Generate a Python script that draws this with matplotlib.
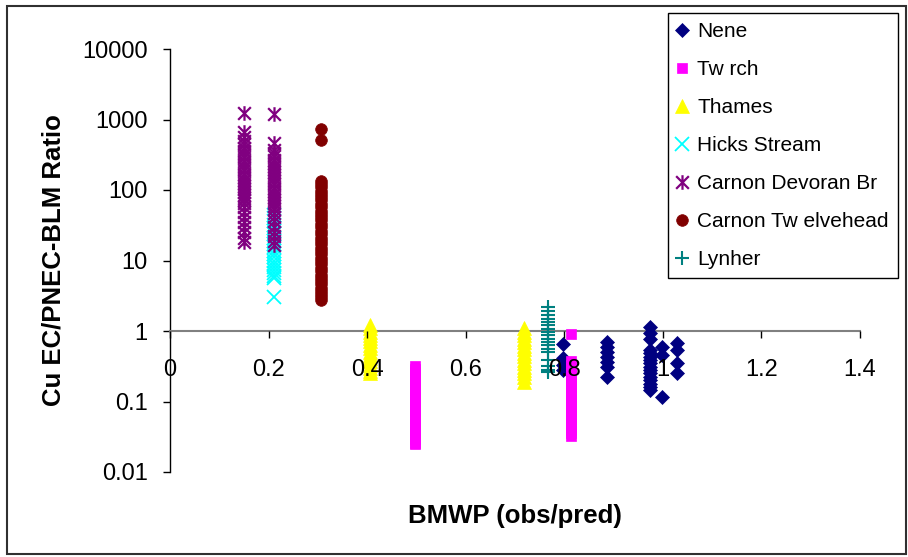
import matplotlib
matplotlib.use("Agg")
import matplotlib.pyplot as plt
from matplotlib.path import Path
from matplotlib.patches import Rectangle

plt.rcParams['font.family'] = ['Liberation Sans', 'DejaVu Sans']

# ---- data: column positions (BMWP obs/pred) and ratios per column ----
nene_cols = [0.797, 0.887, 0.974, 0.998, 1.028]
nene_vals = [
    [0.65, 0.41, 0.33, 0.28],
    [0.70, 0.59, 0.50, 0.43, 0.36, 0.31, 0.22],
    [1.14, 0.94, 0.77, 0.54, 0.48, 0.43, 0.39, 0.35, 0.31, 0.28, 0.25,
     0.22, 0.20, 0.18, 0.16, 0.145],
    [0.59, 0.46, 0.116],
    [0.68, 0.54, 0.35, 0.25],
]

twrch_cols = [0.497, 0.814]
twrch_vals = [
    [0.32, 0.29, 0.26, 0.23, 0.21, 0.19, 0.17, 0.15, 0.135, 0.12, 0.108,
     0.097, 0.087, 0.078, 0.07, 0.063, 0.056, 0.05, 0.045, 0.04, 0.036,
     0.032, 0.029, 0.026, 0.025],
    [0.91, 0.37, 0.33, 0.30, 0.27, 0.24, 0.215, 0.195, 0.175, 0.155, 0.138,
     0.123, 0.11, 0.098, 0.087, 0.078, 0.07, 0.063, 0.056, 0.05, 0.045,
     0.04, 0.036, 0.032],
]

thames_cols = [0.406, 0.718]
thames_vals = [
    [1.22, 1.10, 0.98, 0.88, 0.79, 0.71, 0.64, 0.57, 0.51, 0.46, 0.41,
     0.37, 0.33, 0.30, 0.27, 0.25],
    [1.09, 0.97, 0.87, 0.78, 0.70, 0.62, 0.55, 0.49, 0.44, 0.39, 0.35,
     0.31, 0.28, 0.25, 0.22, 0.19],
]

hicks_cols = [0.211]
hicks_vals = [
    [44, 40, 36, 32, 29, 26, 23.5, 21, 19, 17, 15.3, 13.8, 12.4, 11.2, 10,
     9.0, 8.1, 7.3, 6.6, 6.0, 5.6, 3.05],
]

devoran_cols = [0.150, 0.211]
devoran_vals = [
    [1250, 670, 560, 500, 450, 400, 360, 320, 290, 260, 235, 210, 190, 170,
     155, 140, 127, 115, 104, 95, 86, 78, 71, 65, 57, 48, 42, 35, 30, 25,
     21, 18.5],
    [1200, 460, 370, 330, 300, 270, 245, 220, 200, 180, 162, 146, 132, 120,
     108, 98, 88, 80, 72, 65, 59, 53, 47, 42, 36, 30, 25, 22, 19, 16.6],
]

twelvehead_cols = [0.306]
twelvehead_vals = [
    [725, 510, 135, 122, 110, 98, 88, 79, 71, 64, 57, 51, 46, 41, 37, 33,
     29.5, 26.5, 23.5, 21, 19, 17, 15.2, 13.6, 12.2, 11, 9.8, 8.8, 7.9, 7.1,
     6.3, 5.7, 5.1, 4.6, 4.1, 3.7, 3.3, 3.0, 2.75],
]

lynher_cols = [0.767]
lynher_vals = [
    [2.2, 1.9, 1.7, 1.5, 1.35, 1.2, 1.08, 0.97, 0.87, 0.78, 0.70, 0.63,
     0.56, 0.50, 0.39, 0.32, 0.28, 0.265],
]

series_names = ["Nene", "Tw rch", "Thames", "Hicks Stream",
                "Carnon Devoran Br", "Carnon Tw elvehead", "Lynher"]

x_ticks = [0, 0.2, 0.4, 0.6, 0.8, 1.0, 1.2, 1.4]
x_tick_labels = ["0", "0.2", "0.4", "0.6", "0.8", "1", "1.2", "1.4"]
y_ticks = [0.01, 0.1, 1, 10, 100, 1000, 10000]
y_tick_labels = ["0.01", "0.1", "1", "10", "100", "1000", "10000"]

# ---- marker styles ----
star_path = Path(
    [(-1, -1), (1, 1), (-1, 1), (1, -1), (0, -1.15), (0, 1.15)],
    [Path.MOVETO, Path.LINETO, Path.MOVETO, Path.LINETO, Path.MOVETO, Path.LINETO],
)

styles = [
    dict(marker="D", color="#000080", ms=6.8, mec="#000080", mew=0.5),
    dict(marker="s", color="#FF00FF", ms=7.8, mec="#FF00FF", mew=0.5),
    dict(marker="^", color="#FFFF00", ms=9.5, mec="#FFFF00", mew=0.5),
    dict(marker="x", color="#00FFFF", ms=9.5, mec="#00FFFF", mew=1.3),
    dict(marker=star_path, color="#800080", ms=10.5, mec="#800080", mew=1.6,
         mfc="none"),
    dict(marker="o", color="#800000", ms=8.4, mec="#800000", mew=0.5),
    dict(marker="+", color="#008080", ms=10, mec="#008080", mew=1.5),
]

all_series = [
    (nene_cols, nene_vals),
    (twrch_cols, twrch_vals),
    (thames_cols, thames_vals),
    (hicks_cols, hicks_vals),
    (devoran_cols, devoran_vals),
    (twelvehead_cols, twelvehead_vals),
    (lynher_cols, lynher_vals),
]

fig = plt.figure(figsize=(9.08, 5.57), dpi=100)
fig.patch.set_facecolor("white")
ax = fig.add_axes([170 / 908, 85 / 557, 690 / 908, 423 / 557])

handles = []
for (cols, vals), name, st in zip(all_series, series_names, styles):
    xs, ys = [], []
    for c, v in zip(cols, vals):
        xs.extend([c] * len(v))
        ys.extend(v)
    st = dict(st)
    color = st.pop("color")
    (ln,) = ax.plot(xs, ys, linestyle="none", color=color, label=name,
                    zorder=3, clip_on=False, **st)
    handles.append(ln)

ax.set_yscale("log")
ax.set_xlim(0, 1.4)
ax.set_ylim(0.01, 10000)

ax.spines["top"].set_visible(False)
ax.spines["right"].set_visible(False)
ax.spines["left"].set_position(("data", 0))
ax.spines["bottom"].set_position(("data", 1))
ax.spines["left"].set_color("black")
ax.spines["left"].set_linewidth(1.0)
ax.spines["bottom"].set_color("#808080")
ax.spines["bottom"].set_linewidth(1.5)

ax.set_xticks(x_ticks)
ax.set_xticklabels(x_tick_labels)
ax.set_yticks(y_ticks)
ax.set_yticklabels(y_tick_labels)
ax.yaxis.set_minor_locator(matplotlib.ticker.NullLocator())
ax.tick_params(axis="x", direction="out", length=5, width=1, color="black",
               labelsize=17, pad=15)
ax.tick_params(axis="y", direction="out", length=5, width=1, color="black",
               labelsize=17, pad=11)
ax.xaxis.set_zorder(4)

ax.set_xlabel("BMWP (obs/pred)", fontsize=18.5, fontweight="bold")
ax.xaxis.set_label_coords(0.5, -0.076)
ax.set_ylabel("Cu EC/PNEC-BLM Ratio", fontsize=18.5, fontweight="bold")
ax.yaxis.set_label_coords(-0.151, 0.5)

leg = fig.legend(handles=handles, loc="upper left",
                 bbox_to_anchor=(668 / 908, 1 - 13 / 557),
                 bbox_transform=fig.transFigure, borderaxespad=0,
                 fontsize=15, frameon=True, fancybox=False, framealpha=1,
                 edgecolor="black", numpoints=1, borderpad=0.45,
                 labelspacing=0.91, handlelength=0.45, handletextpad=0.5)
leg.get_frame().set_linewidth(1.0)

# outer border of the chart area
fig.patches.append(Rectangle((7 / 908, 3 / 557), 899 / 908, 548 / 557,
                             transform=fig.transFigure, fill=False,
                             edgecolor="#303030", linewidth=1.5))

fig.savefig("out.png", dpi=100)
